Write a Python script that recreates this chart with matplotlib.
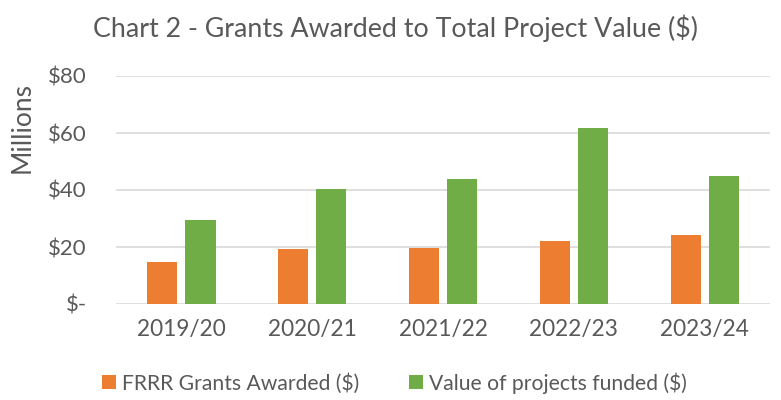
import numpy as np
import matplotlib.pyplot as plt

# data (millions of dollars)
years = ["2019/20", "2020/21", "2021/22", "2022/23", "2023/24"]
grants = [14.7, 19.4, 19.6, 22.2, 24.3]
project_value = [29.3, 40.5, 43.7, 61.9, 44.8]
ytick_values = [0, 20, 40, 60, 80]
ytick_labels = ["$-", "$20", "$40", "$60", "$80"]

orange = "#ED7D31"
green = "#70AD47"
text_col = "#595959"

plt.rcParams['font.family'] = ['Lato', 'DejaVu Sans']

fig = plt.figure(figsize=(7.81, 4.0), dpi=100)
ax = fig.add_axes([0.1485, 0.24, 0.8375, 0.57])

x = np.arange(len(years))
w = 0.23
ax.bar(x - 0.146, grants, w, color=orange, label="FRRR Grants Awarded ($)", zorder=3)
ax.bar(x + 0.146, project_value, w, color=green, label="Value of projects funded ($)", zorder=3)

ax.set_xlim(-0.5, len(years) - 0.5)
ax.set_ylim(0, 80)
ax.set_yticks(ytick_values)
ax.set_yticklabels(ytick_labels)
ax.set_xticks(x)
ax.set_xticklabels(years)
ax.tick_params(axis='both', length=0, colors=text_col)
ax.tick_params(axis='x', pad=11, labelsize=16.3)
ax.tick_params(axis='y', pad=21, labelsize=16)

ax.grid(axis='y', color="#D9D9D9", linewidth=1.2, zorder=0)
for side in ["top", "right", "left", "bottom"]:
    ax.spines[side].set_visible(False)

ax.set_ylabel("Millions", fontsize=19, color=text_col, va='center', ha='center')
ax.yaxis.set_label_coords(-0.143, 0.776)

fig.text(0.507, 0.93, "Chart 2 - Grants Awarded to Total Project Value ($)",
         ha='center', va='center', fontsize=19.3, color=text_col)

fig.legend(loc='center', bbox_to_anchor=(0.505, 0.0425), ncol=2, frameon=False,
           fontsize=15.2, labelcolor=text_col, handlelength=0.65, handleheight=0.65,
           handletextpad=0.28, columnspacing=2.4, borderpad=0)

fig.savefig("out.png", dpi=100)
